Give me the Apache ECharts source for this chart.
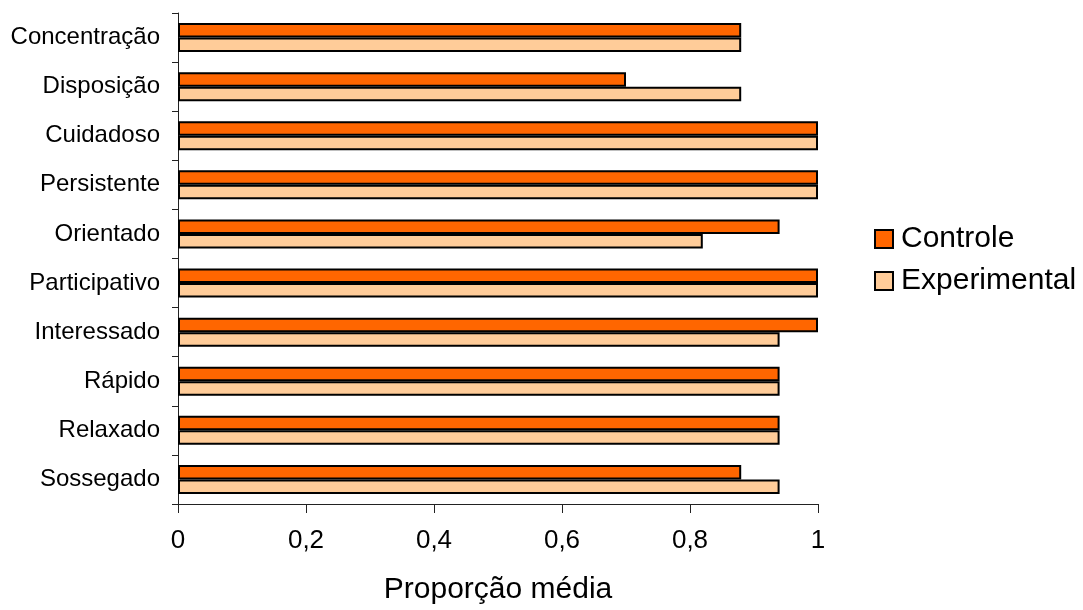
<!DOCTYPE html>
<html>
<head>
<meta charset="utf-8">
<script src="https://cdn.jsdelivr.net/npm/echarts@6/dist/echarts.min.js"></script>
<style>
html,body{margin:0;padding:0;background:#fff;}
#chart{width:1083px;height:610px;}
</style>
</head>
<body>
<div id="chart"></div>
<script>
var categories = ['Concentração','Disposição','Cuidadoso','Persistente','Orientado','Participativo','Interessado','Rápido','Relaxado','Sossegado'];
var controle = [0.88, 0.70, 1.00, 1.00, 0.94, 1.00, 1.00, 0.94, 0.94, 0.88];
var experimental = [0.88, 0.88, 1.00, 1.00, 0.82, 1.00, 0.94, 0.94, 0.94, 0.94];
var seriesNames = ['Controle', 'Experimental'];
var xAxisTitle = 'Proporção média';

var chart = echarts.init(document.getElementById('chart'), null, {renderer: 'canvas'});
var font = 'Liberation Sans, Arial, sans-serif';
chart.setOption({
  animation: false,
  backgroundColor: '#ffffff',
  grid: {left: 178, right: 265, top: 13, bottom: 105, containLabel: false},
  legend: {
    orient: 'vertical',
    left: 869,
    top: 219,
    itemWidth: 18,
    itemHeight: 18,
    itemGap: 12,
    icon: 'rect',
    itemStyle: {borderColor: '#000', borderWidth: 2},
    textStyle: {fontFamily: font, fontSize: 30, color: '#000', padding: [0,0,0,3]},
    data: seriesNames
  },
  xAxis: {
    type: 'value',
    min: 0, max: 1, interval: 0.2,
    name: xAxisTitle,
    nameLocation: 'middle',
    nameGap: 71,
    nameTextStyle: {fontFamily: font, fontSize: 30, color: '#000'},
    axisLine: {show: true, lineStyle: {color: '#222', width: 1}},
    axisTick: {show: true, length: 9, lineStyle: {color: '#222'}},
    splitLine: {show: false},
    axisLabel: {
      fontFamily: font, fontSize: 26, color: '#000', margin: 24,
      formatter: function (v) { return String(Math.round(v * 10) / 10).replace('.', ','); }
    }
  },
  yAxis: {
    type: 'category',
    inverse: true,
    data: categories,
    axisLine: {show: true, lineStyle: {color: '#222', width: 1}},
    axisTick: {show: true, length: 6, alignWithLabel: false, lineStyle: {color: '#222'}},
    axisLabel: {fontFamily: font, fontSize: 24, color: '#000', margin: 18}
  },
  series: [
    {
      name: seriesNames[0], type: 'bar', data: controle,
      barGap: '0%', barCategoryGap: '41%',
      itemStyle: {color: '#FF6600', borderColor: '#000', borderWidth: 2}
    },
    {
      name: seriesNames[1], type: 'bar', data: experimental,
      barGap: '0%', barCategoryGap: '41%',
      itemStyle: {color: '#FFCC99', borderColor: '#000', borderWidth: 2}
    }
  ]
});
</script>
</body>
</html>
